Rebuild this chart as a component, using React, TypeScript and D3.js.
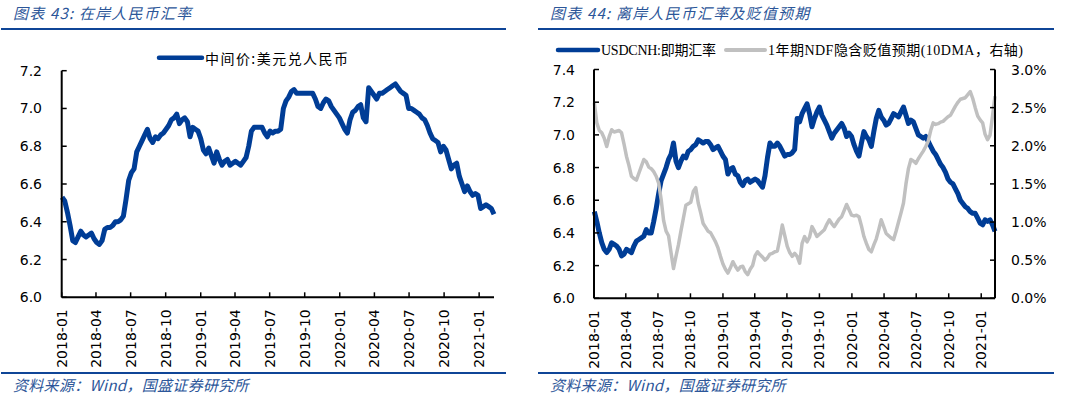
import React from "react";
import * as d3 from "d3";

// weekly observations (Tuesdays) from 2018-01-02 to 2021-02-09
const START = new Date(2018, 0, 2);

// 中间价:美元兑人民币
const onshore = [
  6.53, 6.51, 6.45, 6.38, 6.30, 6.29, 6.32, 6.35, 6.33, 6.32,
  6.33, 6.34, 6.31, 6.29, 6.28, 6.30, 6.36, 6.37, 6.37, 6.38,
  6.40, 6.40, 6.41, 6.43, 6.52, 6.62, 6.66, 6.68, 6.77, 6.80,
  6.83, 6.86, 6.89, 6.84, 6.82, 6.85, 6.84, 6.86, 6.87, 6.89,
  6.91, 6.94, 6.95, 6.97, 6.92, 6.94, 6.95, 6.93, 6.85, 6.90,
  6.89, 6.88, 6.84, 6.78, 6.76, 6.79, 6.75, 6.71, 6.77, 6.73,
  6.70, 6.72, 6.73, 6.70, 6.71, 6.72, 6.71, 6.70, 6.72, 6.74,
  6.80, 6.88, 6.90, 6.90, 6.90, 6.90, 6.87, 6.85, 6.88, 6.87,
  6.88, 6.88, 6.89, 7.00, 7.04, 7.06, 7.09, 7.10, 7.08, 7.08,
  7.08, 7.08, 7.08, 7.08, 7.08, 7.05, 7.01, 7.00, 7.03, 7.05,
  7.04, 7.01, 6.99, 6.97, 6.95, 6.92, 6.89, 6.87, 6.94, 6.98,
  6.99, 7.01, 7.02, 6.95, 6.93, 7.11, 7.09, 7.07, 7.05, 7.08,
  7.08, 7.09, 7.10, 7.11, 7.12, 7.13, 7.11, 7.09, 7.08, 7.07,
  7.00, 7.00, 6.99, 6.98, 6.97, 6.95, 6.94, 6.91, 6.87, 6.84,
  6.83, 6.82, 6.77, 6.80, 6.78, 6.73, 6.68, 6.70, 6.71, 6.64,
  6.60, 6.56, 6.59, 6.56, 6.54, 6.55, 6.54, 6.47, 6.48, 6.49,
  6.48, 6.47, 6.44,
];

// USDCNH:即期汇率
const cnh = [
  6.53, 6.47, 6.40, 6.34, 6.30, 6.28, 6.30, 6.34, 6.33, 6.32,
  6.30, 6.26, 6.27, 6.30, 6.29, 6.28, 6.32, 6.35, 6.36, 6.37,
  6.38, 6.42, 6.40, 6.40, 6.47, 6.55, 6.64, 6.72, 6.76, 6.80,
  6.85, 6.88, 6.95, 6.84, 6.80, 6.84, 6.87, 6.86, 6.90, 6.91,
  6.93, 6.94, 6.97, 6.96, 6.95, 6.96, 6.96, 6.94, 6.91, 6.92,
  6.93, 6.90, 6.87, 6.85, 6.76, 6.79, 6.80, 6.76, 6.75, 6.71,
  6.69, 6.72, 6.73, 6.71, 6.72, 6.73, 6.72, 6.70, 6.68, 6.75,
  6.86, 6.95, 6.93, 6.93, 6.95, 6.93, 6.90, 6.87, 6.88, 6.88,
  6.89, 6.91, 7.10, 7.08, 7.13, 7.16, 7.19, 7.13, 7.05, 7.10,
  7.14, 7.17, 7.12, 7.09, 7.06, 7.02, 6.98, 7.01, 7.03, 7.05,
  7.07, 7.04, 6.99, 7.01, 6.99, 6.94, 6.90, 6.87, 6.95, 7.02,
  6.99, 6.97, 6.93, 7.02, 7.10, 7.15, 7.11, 7.09, 7.06, 7.07,
  7.10, 7.13, 7.12, 7.11, 7.14, 7.17, 7.12, 7.07, 7.09, 7.08,
  7.04, 7.00, 6.99, 6.98, 6.99, 6.96, 6.93, 6.90, 6.88, 6.85,
  6.82, 6.80, 6.77, 6.73, 6.71, 6.70, 6.67, 6.64, 6.60, 6.58,
  6.56, 6.55, 6.53, 6.52, 6.52, 6.49, 6.46, 6.45, 6.48, 6.47,
  6.48, 6.45, 6.41,
];

// 1年期NDF隐含贬值预期 (10DMA, %), right axis
const ndf = [
  2.56, 2.30, 2.20, 2.17, 2.10, 1.99, 2.12, 2.21, 2.18, 2.19,
  2.20, 2.17, 2.02, 1.86, 1.74, 1.60, 1.57, 1.55, 1.64, 1.73,
  1.82, 1.79, 1.72, 1.70, 1.66, 1.60, 1.51, 1.30, 1.02, 0.88,
  0.82, 0.60, 0.39, 0.55, 0.70, 0.88, 1.05, 1.22, 1.24, 1.26,
  1.40, 1.45, 1.25, 1.12, 0.98, 0.93, 0.88, 0.86, 0.80, 0.74,
  0.66, 0.55, 0.45, 0.38, 0.33, 0.40, 0.48, 0.42, 0.37, 0.41,
  0.42, 0.35, 0.31, 0.38, 0.43, 0.56, 0.61, 0.57, 0.54, 0.50,
  0.53, 0.58, 0.59, 0.61, 0.62, 0.78, 0.96, 0.82, 0.68, 0.60,
  0.55, 0.59, 0.55, 0.46, 0.72, 0.81, 0.74, 0.80, 0.94, 0.88,
  0.81, 0.84, 0.87, 0.90, 0.97, 1.03, 0.98, 0.94, 0.99, 1.04,
  1.07, 1.15, 1.23, 1.16, 1.09, 1.08, 1.09, 1.07, 0.95, 0.81,
  0.72, 0.64, 0.61, 0.70, 0.78, 0.90, 1.03, 0.94, 0.85, 0.82,
  0.79, 0.77, 0.88, 1.00, 1.12, 1.25, 1.50, 1.70, 1.82, 1.80,
  1.77, 1.83, 1.88, 1.93, 1.99, 2.06, 2.20, 2.30, 2.28, 2.29,
  2.31, 2.32, 2.35, 2.38, 2.40, 2.46, 2.52, 2.57, 2.61, 2.62,
  2.63, 2.67, 2.71, 2.62, 2.50, 2.39, 2.34, 2.30, 2.15, 2.08,
  2.14, 2.39, 2.65,
];

const xTickLabels = [
  "2018-01", "2018-04", "2018-07", "2018-10", "2019-01", "2019-04", "2019-07",
  "2019-10", "2020-01", "2020-04", "2020-07", "2020-10", "2021-01",
];
const leftTicks = [6.0, 6.2, 6.4, 6.6, 6.8, 7.0, 7.2];
const rightTicksL = [6.0, 6.2, 6.4, 6.6, 6.8, 7.0, 7.2, 7.4];
const rightTicksR = [0, 0.5, 1.0, 1.5, 2.0, 2.5, 3.0];

const BLUE = "#003d96";
const GREY = "#c0c0c0";
const TEXT_BLUE = "#2c5699";
const RULE = "#0f4597";
const TICK_FONT = "'DejaVu Sans', Verdana, sans-serif";
const CJK = "'Noto Sans CJK SC', sans-serif";
const LEGEND_FONT = "'Liberation Serif', 'Noto Sans CJK SC', serif";

const parseMonth = d3.timeParse("%Y-%m");
const dates = onshore.map((_, i) => d3.timeDay.offset(START, 7 * i));
const domain: [Date, Date] = [new Date(2018, 0, 1), dates[dates.length - 1]];

function XAxis({ x, y0 }: { x: d3.ScaleTime<number, number>; y0: number }) {
  const [a, b] = x.range();
  return (
    <g>
      <line x1={a} x2={b} y1={y0} y2={y0} stroke="#000" strokeWidth={2} />
      {xTickLabels.map((t) => {
        const px = x(parseMonth(t)!);
        return (
          <g key={t}>
            <line x1={px} x2={px} y1={y0} y2={y0 - 5} stroke="#000" strokeWidth={1.5} />
            <text
              transform={`translate(${px},${y0 + 12}) rotate(-90)`}
              textAnchor="end"
              dominantBaseline="central"
              fontFamily={TICK_FONT}
              fontSize={14}
              fill="#000"
            >
              {t}
            </text>
          </g>
        );
      })}
    </g>
  );
}

function OnshoreChart() {
  const x = d3.scaleTime().domain(domain).range([61.7, 494]);
  const y = d3.scaleLinear().domain([6.0, 7.2]).range([297.3, 70.7]);
  const line = d3
    .line<number>()
    .x((_, i) => x(dates[i]))
    .y((d) => y(d));
  const x0 = x.range()[0];
  return (
    <g>
      <path d={line(onshore)!} fill="none" stroke={BLUE} strokeWidth={5} strokeLinejoin="round" />
      <line x1={x0} x2={x0} y1={y(7.2)} y2={y(6.0)} stroke="#000" strokeWidth={2} />
      {leftTicks.map((t) => (
        <g key={t}>
          <line x1={x0} x2={x0 + 5} y1={y(t)} y2={y(t)} stroke="#000" strokeWidth={1.5} />
          <text x={42} y={y(t)} textAnchor="end" dominantBaseline="central" fontFamily={TICK_FONT} fontSize={14}>
            {d3.format(".1f")(t)}
          </text>
        </g>
      ))}
      <XAxis x={x} y0={y(6.0)} />
      <line x1={159} x2={202} y1={57.7} y2={57.7} stroke={BLUE} strokeWidth={4.5} strokeLinecap="round" />
      <text x={205} y={57.7} dominantBaseline="central" fontFamily={CJK} fontSize={14} textLength={143} lengthAdjust="spacing">
        中间价:美元兑人民币
      </text>
    </g>
  );
}

function OffshoreChart() {
  const x = d3.scaleTime().domain(domain).range([594, 995]);
  const y = d3.scaleLinear().domain([6.0, 7.4]).range([298.3, 69.5]);
  const y2 = d3.scaleLinear().domain([0, 3.0]).range([298.3, 69.5]);
  const lineL = d3
    .line<number>()
    .x((_, i) => x(dates[i]))
    .y((d) => y(d));
  const lineR = d3
    .line<number>()
    .x((_, i) => x(dates[i]))
    .y((d) => y2(d));
  const [x0, x1] = x.range();
  return (
    <g>
      <path d={lineL(cnh)!} fill="none" stroke={BLUE} strokeWidth={5} strokeLinejoin="round" />
      <path d={lineR(ndf)!} fill="none" stroke={GREY} strokeWidth={3.5} strokeLinejoin="round" />
      <line x1={x0} x2={x0} y1={y(7.4)} y2={y(6.0)} stroke="#000" strokeWidth={2} />
      {rightTicksL.map((t) => (
        <g key={t}>
          <line x1={x0} x2={x0 + 5} y1={y(t)} y2={y(t)} stroke="#000" strokeWidth={1.5} />
          <text x={575} y={y(t)} textAnchor="end" dominantBaseline="central" fontFamily={TICK_FONT} fontSize={14}>
            {d3.format(".1f")(t)}
          </text>
        </g>
      ))}
      <line x1={x1} x2={x1} y1={y2(3.0)} y2={y2(0)} stroke="#000" strokeWidth={2} />
      {rightTicksR.map((t) => (
        <g key={t}>
          <line x1={x1} x2={x1 - 5} y1={y2(t)} y2={y2(t)} stroke="#000" strokeWidth={1.5} />
          <text x={1011} y={y2(t)} dominantBaseline="central" fontFamily={TICK_FONT} fontSize={14}>
            {d3.format(".1%")(t / 100)}
          </text>
        </g>
      ))}
      <XAxis x={x} y0={y(6.0)} />
      <line x1={558} x2={598} y1={50} y2={50} stroke={BLUE} strokeWidth={4.5} strokeLinecap="round" />
      <text x={601} y={50} dominantBaseline="central" fontFamily={LEGEND_FONT} fontSize={14} textLength={115} lengthAdjust="spacing">
        USDCNH:即期汇率
      </text>
      <line x1={726} x2={765} y1={50} y2={50} stroke={GREY} strokeWidth={4} strokeLinecap="round" />
      <text x={768} y={50} dominantBaseline="central" fontFamily={LEGEND_FONT} fontSize={14} textLength={255} lengthAdjust="spacing">
        1年期NDF隐含贬值预期(10DMA，右轴)
      </text>
    </g>
  );
}

function Frame({ x0, x1, title }: { x0: number; x1: number; title: string }) {
  return (
    <g>
      <text x={x0 + 12} y={12} dominantBaseline="central" fontFamily={CJK} fontStyle="italic" fontSize={15} letterSpacing={1.2} fill={TEXT_BLUE}>
        {title}
      </text>
      <line x1={x0} x2={x1} y1={29} y2={29} stroke={RULE} strokeWidth={2} />
      <line x1={x0} x2={x1} y1={373} y2={373} stroke={RULE} strokeWidth={2} />
      <text x={x0 + 12} y={384} dominantBaseline="central" fontFamily={CJK} fontStyle="italic" fontSize={15} letterSpacing={0.3} fill={TEXT_BLUE}>
        资料来源：Wind，国盛证券研究所
      </text>
    </g>
  );
}

export default function App() {
  return (
    <svg
      width={1066}
      height={394}
      viewBox="0 0 1066 394"
      style={{ position: "absolute", left: 0, top: 0, background: "#fff" }}
    >
      <rect width={1066} height={394} fill="#fff" />
      <Frame x0={1} x1={506} title="图表 43:  在岸人民币汇率" />
      <Frame x0={538} x1={1054} title="图表 44:  离岸人民币汇率及贬值预期" />
      <OnshoreChart />
      <OffshoreChart />
    </svg>
  );
}
